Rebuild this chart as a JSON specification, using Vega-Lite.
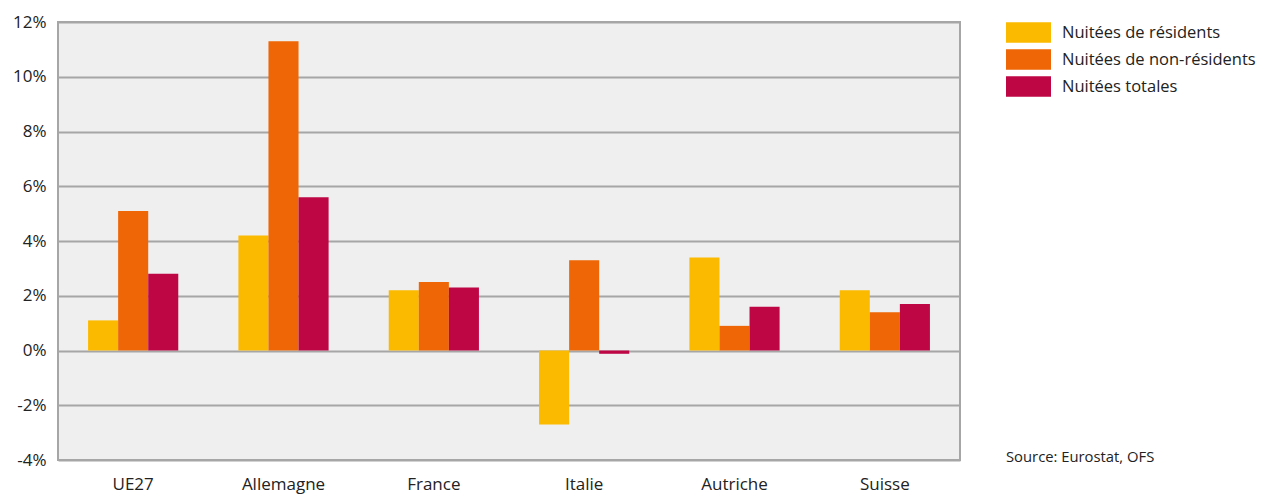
{
  "$schema": "https://vega.github.io/schema/vega-lite/v6.json",
  "autosize": "none",
  "width": 902,
  "height": 438,
  "padding": {"left": 58, "top": 22, "right": 306, "bottom": 36},
  "background": "#ffffff",
  "config": {
    "font": "Open Sans",
    "view": {"fill": "#EFEFEF", "stroke": "#A6A6A6", "strokeWidth": 2},
    "axis": {"labelFont": "Open Sans", "labelFontSize": 17, "labelColor": "#222222", "ticks": false}
  },
  "title": {
    "text": "Source: Eurostat, OFS",
    "orient": "bottom",
    "anchor": "end",
    "frame": "group",
    "align": "left",
    "dx": 46,
    "dy": -46,
    "fontSize": 14.8,
    "fontWeight": "normal",
    "color": "#222222",
    "font": "Open Sans"
  },
  "data": {
    "values": [
      {"pays": "UE27", "serie": "Nuitées de résidents", "valeur": 1.1},
      {"pays": "UE27", "serie": "Nuitées de non-résidents", "valeur": 5.1},
      {"pays": "UE27", "serie": "Nuitées totales", "valeur": 2.8},
      {"pays": "Allemagne", "serie": "Nuitées de résidents", "valeur": 4.2},
      {"pays": "Allemagne", "serie": "Nuitées de non-résidents", "valeur": 11.3},
      {"pays": "Allemagne", "serie": "Nuitées totales", "valeur": 5.6},
      {"pays": "France", "serie": "Nuitées de résidents", "valeur": 2.2},
      {"pays": "France", "serie": "Nuitées de non-résidents", "valeur": 2.5},
      {"pays": "France", "serie": "Nuitées totales", "valeur": 2.3},
      {"pays": "Italie", "serie": "Nuitées de résidents", "valeur": -2.7},
      {"pays": "Italie", "serie": "Nuitées de non-résidents", "valeur": 3.3},
      {"pays": "Italie", "serie": "Nuitées totales", "valeur": -0.12},
      {"pays": "Autriche", "serie": "Nuitées de résidents", "valeur": 3.4},
      {"pays": "Autriche", "serie": "Nuitées de non-résidents", "valeur": 0.9},
      {"pays": "Autriche", "serie": "Nuitées totales", "valeur": 1.6},
      {"pays": "Suisse", "serie": "Nuitées de résidents", "valeur": 2.2},
      {"pays": "Suisse", "serie": "Nuitées de non-résidents", "valeur": 1.4},
      {"pays": "Suisse", "serie": "Nuitées totales", "valeur": 1.7}
    ]
  },
  "mark": {"type": "bar"},
  "encoding": {
    "x": {
      "field": "pays",
      "type": "nominal",
      "sort": ["UE27", "Allemagne", "France", "Italie", "Autriche", "Suisse"],
      "scale": {"paddingInner": 0.4, "paddingOuter": 0.2},
      "axis": {"title": null, "labelAngle": 0, "labelPadding": 16, "domain": false, "grid": false}
    },
    "xOffset": {
      "field": "serie",
      "type": "nominal",
      "sort": ["Nuitées de résidents", "Nuitées de non-résidents", "Nuitées totales"],
      "scale": {"paddingInner": 0, "paddingOuter": 0}
    },
    "y": {
      "field": "valeur",
      "type": "quantitative",
      "scale": {"domain": [-4, 12], "nice": false, "zero": false},
      "axis": {
        "title": null,
        "values": [-4, -2, 0, 2, 4, 6, 8, 10, 12],
        "labelExpr": "datum.value + '%'",
        "labelPadding": 12,
        "domain": false,
        "grid": true,
        "gridColor": "#A6A6A6",
        "gridWidth": 2,
        "gridOpacity": 1
      }
    },
    "color": {
      "field": "serie",
      "type": "nominal",
      "sort": ["Nuitées de résidents", "Nuitées de non-résidents", "Nuitées totales"],
      "scale": {
        "domain": ["Nuitées de résidents", "Nuitées de non-résidents", "Nuitées totales"],
        "range": ["#FBBA00", "#EE6605", "#BE0645"]
      },
      "legend": {
        "title": null,
        "orient": "none",
        "legendX": 948,
        "legendY": 0,
        "symbolType": "M-1,-0.46H1V0.46H-1Z",
        "symbolSize": 2025,
        "symbolStrokeWidth": 0,
        "symbolOpacity": 1,
        "clipHeight": 21,
        "rowPadding": 6,
        "labelOffset": 11,
        "labelFontSize": 16.5,
        "labelFont": "Open Sans",
        "labelColor": "#222222",
        "labelLimit": 300
      }
    }
  }
}
